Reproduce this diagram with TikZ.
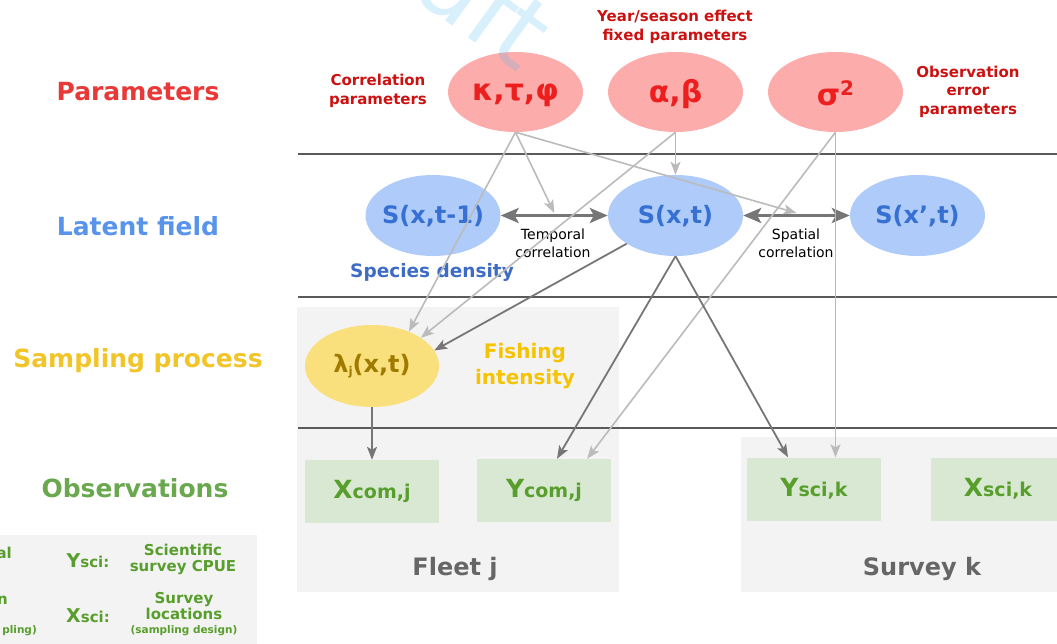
\documentclass[tikz,border=0pt]{standalone}
\usepackage{fontspec}
\setmainfont{DejaVu Sans}
\usetikzlibrary{arrows.meta,shapes.geometric,calc}
\definecolor{labred}{RGB}{232,56,56}
\definecolor{annred}{RGB}{204,17,17}
\definecolor{pinkfill}{RGB}{253,172,172}
\definecolor{partxt}{RGB}{236,30,30}
\definecolor{labblue}{RGB}{88,148,234}
\definecolor{bluefill}{RGB}{174,203,250}
\definecolor{stxt}{RGB}{54,112,210}
\definecolor{spdens}{RGB}{62,108,196}
\definecolor{labyel}{RGB}{241,196,40}
\definecolor{yelfill}{RGB}{249,224,124}
\definecolor{lamtxt}{RGB}{158,122,0}
\definecolor{fishtxt}{RGB}{245,195,0}
\definecolor{labgreen}{RGB}{106,168,79}
\definecolor{greenfill}{RGB}{217,232,211}
\definecolor{greentxt}{RGB}{88,158,44}
\definecolor{panel}{RGB}{243,243,243}
\definecolor{paneltxt}{RGB}{102,102,102}
\definecolor{darkarr}{RGB}{118,118,118}
\definecolor{lightarr}{RGB}{187,187,187}
\definecolor{sepline}{RGB}{90,90,90}
\definecolor{wmark}{RGB}{77,184,240}
\tikzset{
  rowlabel/.style={font=\fontsize{25}{25}\selectfont\bfseries},
  ann/.style={font=\fontsize{15}{19}\selectfont\bfseries, text=annred, align=center},
  pell/.style={ellipse, fill=pinkfill, minimum width=135pt, minimum height=80pt, inner sep=0pt},
  bell/.style={ellipse, fill=bluefill, minimum width=135pt, minimum height=81pt, inner sep=0pt},
  yell/.style={ellipse, fill=yelfill, minimum width=134pt, minimum height=82pt, inner sep=0pt},
  ptxt/.style={font=\fontsize{30}{30}\selectfont\bfseries, text=partxt, inner sep=0pt},
  stext/.style={font=\fontsize{24}{24}\selectfont\bfseries, text=stxt, inner sep=0pt},
  corr/.style={font=\fontsize{14}{18}\selectfont, align=center, text=black},
  gbox/.style={rectangle, fill=greenfill, minimum width=134pt, minimum height=63pt, inner sep=0pt},
  gtxt/.style={text=greentxt, inner sep=0pt, font=\bfseries},
  panelbox/.style={rectangle, fill=panel, inner sep=0pt},
  paneltitle/.style={font=\fontsize{24}{24}\selectfont\bfseries, text=paneltxt},
  legtxt/.style={font=\fontsize{15}{16.5}\selectfont\bfseries, text=greentxt, align=center},
  lightconn/.style={draw=lightarr, line width=1.6pt, -{Stealth[length=13pt,width=10pt,inset=3pt]}},
  darkconn/.style={draw=darkarr, line width=1.8pt, -{Stealth[length=13pt,width=10pt,inset=3pt]}},
  dblconn/.style={draw=darkarr, line width=3pt, {Stealth[length=18pt,width=15pt,inset=4pt]}-{Stealth[length=18pt,width=15pt,inset=4pt]}},
}
\newcommand{\bigsmall}[3]{{\fontsize{#1}{#1}\selectfont #3}}
\begin{document}
\begin{tikzpicture}[x=1pt,y=-1pt]
\useasboundingbox (0,0) rectangle (1057,644);
\clip (0,0) rectangle (1057,644);

% panels
\node[panelbox, minimum width=322pt, minimum height=285pt] (fleet) at (458,449.5) {};
\node[panelbox, minimum width=334pt, minimum height=155pt] (survey) at (908,514.5) {};
\node[panelbox, minimum width=277pt, minimum height=125pt] (legend) at (118.5,597.5) {};

% separators
\draw[sepline, line width=1.1pt] (298,154) -- (1057,154);
\draw[sepline, line width=1.1pt] (298,297) -- (1057,297);
\draw[sepline, line width=1.1pt] (298,428) -- (1057,428);

% row labels
\node[rowlabel, text=labred] (lpar) at (138,92) {Parameters};
\node[rowlabel, text=labblue] (llat) at (138,226) {Latent field};
\node[rowlabel, text=labyel] (lsam) at (138,361) {Sampling process};
\node[rowlabel, text=labgreen] (lobs) at (135,488) {Observations};

% parameters
\node[pell] (kap) at (515.5,92) {};
\node[ptxt] (kapt) at ($(kap)+(0,3)$) {κ,τ,φ};
\node[pell] (ab) at (675.5,92) {};
\node[ptxt] (abt) at ($(ab)+(0,2)$) {α,β};
\node[pell] (sig) at (835.5,92) {};
\node[ptxt] (sigt) at ($(sig)+(0,1)$) {σ\raisebox{10pt}{\fontsize{20}{20}\selectfont 2}};
\node[ann] (acorr) at (378,91) {Correlation\\parameters};
\node[ann] (ayear) at (675,27) {Year/season effect\\fixed parameters};
\node[ann, font=\fontsize{15}{18.5}\selectfont\bfseries] (aobs) at (968,91.5) {Observation\\error\\parameters};

% latent field
\node[bell] (s1) at (433,215.5) {};
\node[stext] (s1t) at ($(s1)+(0,1)$) {S(x,t-1)};
\node[bell] (sxt) at (675.5,215.5) {};
\node[stext] (sxtt) at ($(sxt)+(0,1)$) {S(x,t)};
\node[bell] (s3) at (917.5,215.5) {};
\node[stext] (s3t) at ($(s3)+(0,1)$) {S(x',t)};
\node[corr] (tcorr) at (553,243) {Temporal\\correlation};
\node[corr] (scorr) at (796,243) {Spatial\\correlation};
\node[font=\fontsize{18.5}{18.5}\selectfont\bfseries, text=spdens] (spd) at (432,272) {Species density};

% sampling
\node[yell] (lam) at (372,366) {};
\node[font=\fontsize{24}{24}\selectfont\bfseries, text=lamtxt, inner sep=0pt] (lamt) at (lam) {λ\raisebox{-3pt}{\fontsize{12}{12}\selectfont j}(x,t)};
\node[font=\fontsize{20}{26}\selectfont\bfseries, text=fishtxt, align=center] (fish) at (525,366) {Fishing\\intensity};

% observations
\node[gbox] (xcom) at (372,491.5) {};
\node[gtxt] (xcomt) at (xcom) {\bigsmall{25}{}{X}\bigsmall{19}{}{com,j}};
\node[gbox] (ycom) at (544,490.5) {};
\node[gtxt] (ycomt) at (ycom) {\bigsmall{25}{}{Y}\bigsmall{19}{}{com,j}};
\node[gbox] (ysci) at (814,489) {};
\node[gtxt] (yscit) at (ysci) {\bigsmall{25}{}{Y}\bigsmall{19}{}{sci,k}};
\node[gbox] (xsci) at (998,489) {};
\node[gtxt] (xscit) at (xsci) {\bigsmall{25}{}{X}\bigsmall{19}{}{sci,k}};
\node[paneltitle] (fleett) at (455,569) {Fleet j};
\node[paneltitle] (survt) at (922,569) {Survey k};

% legend
\node[legtxt, anchor=east, inner sep=0pt] (frag1) at (12,553) {al};
\node[legtxt, anchor=east, inner sep=0pt] (frag2) at (8,600) {n};
\node[legtxt, font=\fontsize{10.5}{10.5}\selectfont\bfseries, anchor=east, inner sep=0pt] (frag3) at (37,631) {pling)};
\node[gtxt] (ylab) at (88,561) {\bigsmall{19}{}{Y}\bigsmall{15}{}{sci:}};
\node[gtxt] (xlab) at (88,616) {\bigsmall{19}{}{X}\bigsmall{15}{}{sci:}};
\node[legtxt] (ydesc) at (183,559.5) {Scientific\\survey CPUE};
\node[legtxt] (xdesc) at (184,606) {Survey\\locations};
\node[legtxt, font=\fontsize{10.5}{10.5}\selectfont\bfseries] (xdesc2) at (184,631) {(sampling design)};

% helper coordinates
\coordinate (tmid) at ($(s1.east)!0.5!(sxt.west)+(0,-2.5)$);
\coordinate (smid) at ($(sxt.east)!0.5!(s3.west)+(0,-2.5)$);

% connectors
\draw[dblconn] (s1.east) -- (sxt.west);
\draw[dblconn] (sxt.east) -- (s3.west);
\draw[lightconn] (kap.south) -- (lam.43);
\draw[lightconn] (kap.south) -- (tmid);
\draw[lightconn] (kap.south) -- (smid);
\draw[lightconn] (ab.south) -- (sxt.north);
\draw[lightconn] (ab.south) -- (lam.30);
\draw[lightconn] (sig.south) -- (sig.south |- ysci.north);
\draw[lightconn] (sig.south) -- ($(ycom.north east)+(-24,0)$);
\draw[darkconn] (sxt.210) -- (lam.14);
\draw[darkconn] (sxt.south) -- ($(ycom.north)+(13,0)$);
\draw[darkconn] (sxt.south) -- ($(ysci.north)+(-26,0)$);
\draw[darkconn] (lam.south) -- (xcom.north);

% watermark
\node[font=\fontsize{100}{100}\selectfont, text=wmark, opacity=0.22, rotate=-36, anchor=base west, inner sep=0pt] (wmk) at (314.5,-74.4) {Draft};
\end{tikzpicture}
\end{document}
